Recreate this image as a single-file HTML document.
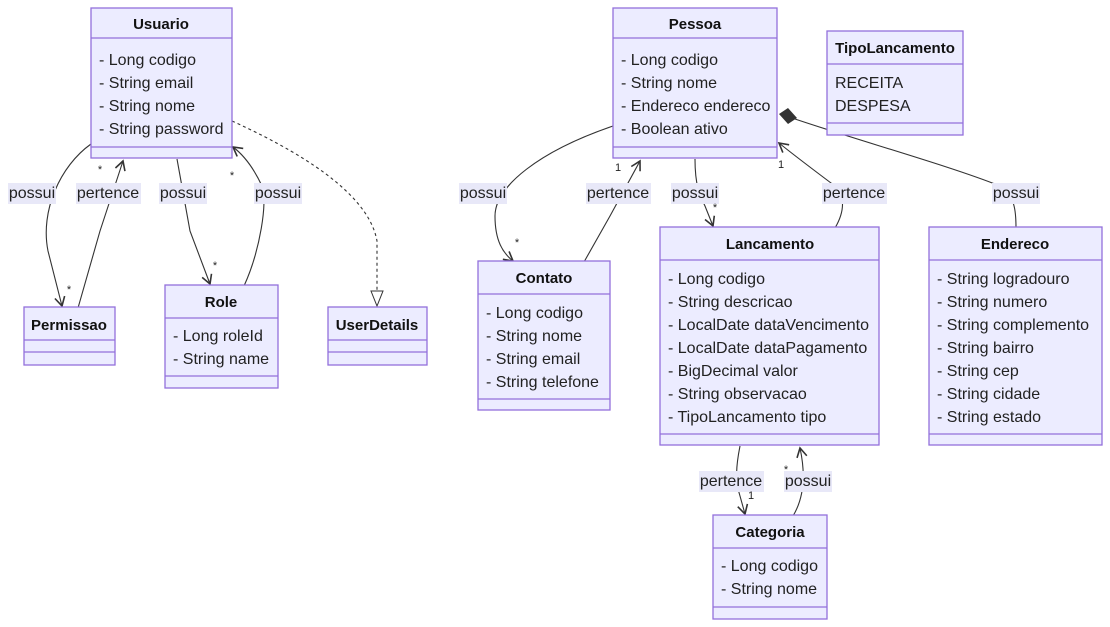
<!DOCTYPE html>
<html><head><meta charset="utf-8"><style>
html,body{margin:0;padding:0;background:#fff;}
svg{display:block;font-family:"Liberation Sans",sans-serif;}
.b{fill:#ECECFF;stroke:#9370DB;stroke-width:1.3;}
.l{stroke:#9370DB;stroke-width:1.3;}
.t{font-weight:bold;font-size:15px;fill:#111;text-anchor:middle;dominant-baseline:middle;}
.m{font-size:16px;fill:#222;dominant-baseline:middle;}
.e{fill:none;stroke:#333;stroke-width:1.1;}
.lb{fill:#E8E8F8;}
.lt{font-size:16px;fill:#222;text-anchor:middle;dominant-baseline:middle;}
.c{font-size:11px;fill:#222;text-anchor:middle;}
</style></head><body>
<svg width="1110" height="627" viewBox="0 0 1110 627">
<defs>
<marker id="ar" markerWidth="12" markerHeight="12" refX="10" refY="6" orient="auto" markerUnits="userSpaceOnUse"><path d="M1,1 L10,6 L1,11" fill="none" stroke="#333" stroke-width="1.6"/></marker>
</defs>
<g transform="translate(0,1)">
<!-- edges -->
<path class="e" d="M91,143 C60,165 40,210 48,250 L62,305" marker-end="url(#ar)"/>
<path class="e" d="M78,307 L100,230 L123,160" marker-end="url(#ar)"/>
<path class="e" d="M177,158 L190,230 L210,283" marker-end="url(#ar)"/>
<path class="e" d="M244,285 C260,250 268,200 262,185 C255,170 245,155 233,146" marker-end="url(#ar)"/>
<path class="e" d="M232,120 C320,160 370,200 377,240 L377,290" stroke-dasharray="3,3"/>
<path d="M371,290 L383,290 L377,305 Z" fill="#fff" stroke="#333"/>
<path class="e" d="M613,125 C540,150 495,185 495,215 C495,240 503,252 513,260" marker-end="url(#ar)"/>
<path class="e" d="M584,261 L610,215 L640,160" marker-end="url(#ar)"/>
<path class="e" d="M695,158 C695,185 700,195 705,205 L713,225" marker-end="url(#ar)"/>
<path class="e" d="M835,227 C845,210 845,195 835,185 C815,170 795,155 779,142" marker-end="url(#ar)"/>
<path class="e" d="M792,117 C860,140 950,165 1000,185 C1015,195 1016,210 1016,227"/>
<path d="M779,113 L788,107 L797,117 L788,123 Z" fill="#333"/>
<path class="e" d="M740,445 C736,465 735,480 740,495 L745,513" marker-end="url(#ar)"/>
<path class="e" d="M793,515 C805,495 805,470 800,447" marker-end="url(#ar)"/>
<!-- edge labels -->
<rect class="lb" x="8" y="182" width="48" height="21"/><text class="lt" x="32" y="193">possui</text>
<rect class="lb" x="76" y="182" width="65" height="21"/><text class="lt" x="108" y="193">pertence</text>
<rect class="lb" x="159" y="182" width="48" height="21"/><text class="lt" x="183" y="193">possui</text>
<rect class="lb" x="254" y="182" width="48" height="21"/><text class="lt" x="278" y="193">possui</text>
<rect class="lb" x="459" y="182" width="48" height="21"/><text class="lt" x="483" y="193">possui</text>
<rect class="lb" x="586" y="182" width="65" height="21"/><text class="lt" x="618" y="193">pertence</text>
<rect class="lb" x="671" y="182" width="48" height="21"/><text class="lt" x="695" y="193">possui</text>
<rect class="lb" x="822" y="182" width="65" height="21"/><text class="lt" x="854" y="193">pertence</text>
<rect class="lb" x="992" y="182" width="48" height="21"/><text class="lt" x="1016" y="193">possui</text>
<rect class="lb" x="699" y="470" width="65" height="21"/><text class="lt" x="731" y="481">pertence</text>
<rect class="lb" x="784" y="470" width="48" height="21"/><text class="lt" x="808" y="481">possui</text>
<!-- cardinalities -->
<text class="c" x="69" y="292">*</text><text class="c" x="100" y="172">*</text>
<text class="c" x="215" y="268">*</text><text class="c" x="232" y="178">*</text>
<text class="c" x="517" y="245">*</text><text class="c" x="618" y="170">1</text>
<text class="c" x="715" y="210">*</text><text class="c" x="781" y="167">1</text>
<text class="c" x="751" y="498">1</text><text class="c" x="786" y="472">*</text>
</g>
<g transform="translate(0,0)">
<!-- Usuario -->
<rect class="b" x="91" y="8" width="141" height="150"/><line class="l" x1="91" y1="38" x2="232" y2="38"/><line class="l" x1="91" y1="147" x2="232" y2="147"/>
<text class="t" x="161" y="25">Usuario</text>
<text class="m" x="99" y="61">- Long codigo</text><text class="m" x="99" y="84">- String email</text><text class="m" x="99" y="107">- String nome</text><text class="m" x="99" y="130">- String password</text>
<!-- Permissao -->
<rect class="b" x="24" y="307" width="91" height="58"/><line class="l" x1="24" y1="340" x2="115" y2="340"/><line class="l" x1="24" y1="352" x2="115" y2="352"/>
<text class="t" x="69" y="326">Permissao</text>
<!-- Role -->
<rect class="b" x="165" y="285" width="113" height="103"/><line class="l" x1="165" y1="318" x2="278" y2="318"/><line class="l" x1="165" y1="376" x2="278" y2="376"/>
<text class="t" x="221" y="303">Role</text>
<text class="m" x="173" y="337">- Long roleId</text><text class="m" x="173" y="360">- String name</text>
<!-- UserDetails -->
<rect class="b" x="328" y="307" width="99" height="58"/><line class="l" x1="328" y1="340" x2="427" y2="340"/><line class="l" x1="328" y1="352" x2="427" y2="352"/>
<text class="t" x="377" y="326">UserDetails</text>
<!-- Pessoa -->
<rect class="b" x="613" y="8" width="164" height="150"/><line class="l" x1="613" y1="38" x2="777" y2="38"/><line class="l" x1="613" y1="147" x2="777" y2="147"/>
<text class="t" x="695" y="25">Pessoa</text>
<text class="m" x="621" y="61">- Long codigo</text><text class="m" x="621" y="84">- String nome</text><text class="m" x="621" y="107">- Endereco endereco</text><text class="m" x="621" y="130">- Boolean ativo</text>
<!-- TipoLancamento -->
<rect class="b" x="827" y="31" width="136" height="104"/><line class="l" x1="827" y1="64" x2="963" y2="64"/><line class="l" x1="827" y1="123" x2="963" y2="123"/>
<text class="t" x="895" y="49">TipoLancamento</text>
<text class="m" x="835" y="84">RECEITA</text><text class="m" x="835" y="107">DESPESA</text>
<!-- Contato -->
<rect class="b" x="478" y="261" width="132" height="149"/><line class="l" x1="478" y1="294" x2="610" y2="294"/><line class="l" x1="478" y1="399" x2="610" y2="399"/>
<text class="t" x="544" y="279">Contato</text>
<text class="m" x="486" y="314">- Long codigo</text><text class="m" x="486" y="337">- String nome</text><text class="m" x="486" y="360">- String email</text><text class="m" x="486" y="383">- String telefone</text>
<!-- Lancamento -->
<rect class="b" x="660" y="227" width="219" height="218"/><line class="l" x1="660" y1="260" x2="879" y2="260"/><line class="l" x1="660" y1="434" x2="879" y2="434"/>
<text class="t" x="770" y="245">Lancamento</text>
<text class="m" x="668" y="280">- Long codigo</text><text class="m" x="668" y="303">- String descricao</text><text class="m" x="668" y="326">- LocalDate dataVencimento</text><text class="m" x="668" y="349">- LocalDate dataPagamento</text><text class="m" x="668" y="372">- BigDecimal valor</text><text class="m" x="668" y="395">- String observacao</text><text class="m" x="668" y="418">- TipoLancamento tipo</text>
<!-- Endereco -->
<rect class="b" x="929" y="227" width="173" height="218"/><line class="l" x1="929" y1="260" x2="1102" y2="260"/><line class="l" x1="929" y1="434" x2="1102" y2="434"/>
<text class="t" x="1015" y="245">Endereco</text>
<text class="m" x="937" y="280">- String logradouro</text><text class="m" x="937" y="303">- String numero</text><text class="m" x="937" y="326">- String complemento</text><text class="m" x="937" y="349">- String bairro</text><text class="m" x="937" y="372">- String cep</text><text class="m" x="937" y="395">- String cidade</text><text class="m" x="937" y="418">- String estado</text>
<!-- Categoria -->
<rect class="b" x="713" y="515" width="114" height="104"/><line class="l" x1="713" y1="548" x2="827" y2="548"/><line class="l" x1="713" y1="607" x2="827" y2="607"/>
<text class="t" x="770" y="533">Categoria</text>
<text class="m" x="721" y="567">- Long codigo</text><text class="m" x="721" y="590">- String nome</text>
</g>
</svg>
</body></html>
